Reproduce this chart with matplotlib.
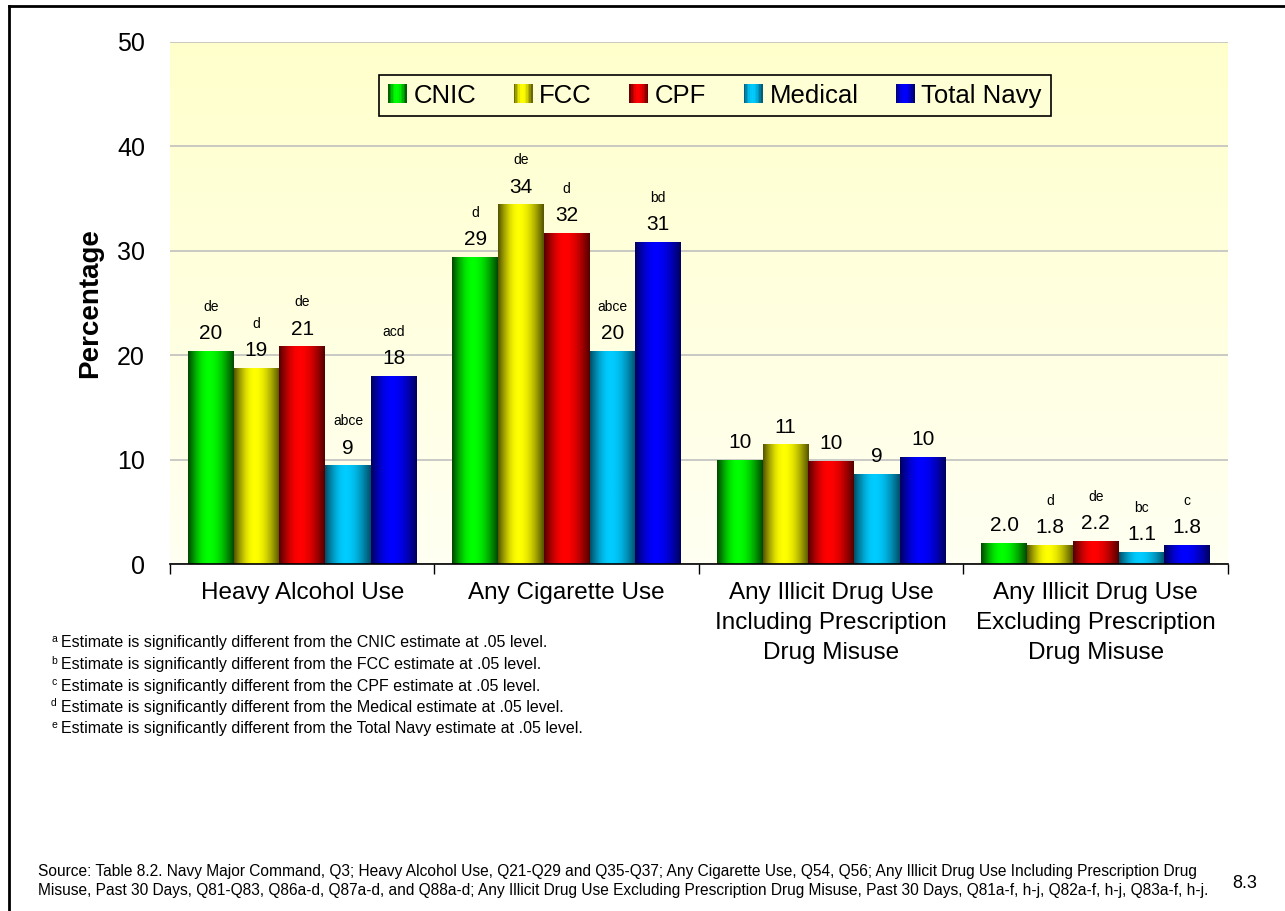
import numpy as np
import matplotlib
matplotlib.use("Agg")
import matplotlib.pyplot as plt
from matplotlib.colors import LinearSegmentedColormap
from matplotlib.patches import Rectangle
from matplotlib.legend_handler import HandlerBase
from matplotlib.lines import Line2D

plt.rcParams['font.family'] = ['Liberation Sans', 'DejaVu Sans']

# ---- data ----
categories = ["Heavy Alcohol Use", "Any Cigarette Use",
              "Any Illicit Drug Use\nIncluding Prescription\nDrug Misuse",
              "Any Illicit Drug Use\nExcluding Prescription\nDrug Misuse"]
series = ["CNIC", "FCC", "CPF", "Medical", "Total Navy"]
cnic = [20.4, 29.4, 9.9, 2.0]
fcc = [18.7, 34.4, 11.4, 1.8]
cpf = [20.8, 31.7, 9.8, 2.2]
medical = [9.4, 20.4, 8.6, 1.1]
total_navy = [18.0, 30.8, 10.2, 1.8]
decimals = [0, 0, 0, 1]

cnic_sig = ["de", "d", "", ""]
fcc_sig = ["d", "de", "", "d"]
cpf_sig = ["de", "d", "", "de"]
medical_sig = ["abce", "abce", "", "bc"]
total_sig = ["acd", "bd", "", "c"]

footnotes = [("a", "CNIC"), ("b", "FCC"), ("c", "CPF"), ("d", "Medical"), ("e", "Total Navy")]
source = ("Source: Table 8.2. Navy Major Command, Q3; Heavy Alcohol Use, Q21-Q29 and Q35-Q37; Any Cigarette Use, Q54, Q56; "
          "Any Illicit Drug Use Including Prescription Drug\nMisuse, Past 30 Days, Q81-Q83, Q86a-d, Q87a-d, and Q88a-d; "
          "Any Illicit Drug Use Excluding Prescription Drug Misuse, Past 30 Days, Q81a-f, h-j, Q82a-f, h-j, Q83a-f, h-j.")

values = [cnic, fcc, cpf, medical, total_navy]
sigs = [cnic_sig, fcc_sig, cpf_sig, medical_sig, total_sig]

# dark edge / bright centre for the cylinder-like shading
shades = [("#004a00", "#00ff00"), ("#555500", "#ffff00"), ("#550000", "#ff0000"),
          ("#00506a", "#00ccff"), ("#000060", "#0000ff")]


def grad_cmap(dark, bright):
    return LinearSegmentedColormap.from_list("g", [dark, bright])


def shade(t, peak=0.45):
    t = np.asarray(t, dtype=float)
    return np.where(t < peak, np.sin(np.pi / 2 * t / peak),
                    np.sin(np.pi / 2 * (1 - t) / (1 - peak)))


xs = np.linspace(0, 1, 64)
profile = shade(xs)

fig = plt.figure(figsize=(12.85, 9.11), dpi=100)
ax = fig.add_axes([0.1323, 0.3809, 0.8233, 0.5730])

# plot background gradient
bg = LinearSegmentedColormap.from_list("bg", ["#fffff2", "#ffffcc"])
ax.imshow(np.linspace(0, 1, 100).reshape(-1, 1), cmap=bg, origin="lower", aspect="auto",
          extent=[0, 1, 0, 1], transform=ax.transAxes, zorder=0)

n = len(series)
width = 0.173
x = np.arange(len(categories))
for i, (name, vals, sg) in enumerate(zip(series, values, sigs)):
    cm = grad_cmap(*shades[i])
    pos = x + (i - (n - 1) / 2) * width
    bars = ax.bar(pos, vals, width, color="none", edgecolor="none", zorder=2)
    for b, v, s, d in zip(bars, vals, sg, decimals):
        x0 = b.get_x()
        ax.imshow(profile.reshape(1, -1), cmap=cm, vmin=0, vmax=1, aspect="auto",
                  extent=[x0, x0 + width, 0, v], zorder=2, interpolation="bilinear")
        cx = x0 + width / 2
        ax.annotate(f"{v:.{d}f}", (cx, v), xytext=(0, 6), textcoords="offset points",
                    ha="center", va="bottom", fontsize=15)
        if s:
            ax.annotate(s, (cx, v), xytext=(0, 27), textcoords="offset points",
                        ha="center", va="bottom", fontsize=10)

ax.set_xlim(-0.5, len(categories) - 0.5)
ax.set_ylim(0, 50)
ax.set_yticks(range(0, 51, 10))
ax.tick_params(axis="y", length=0, labelsize=18, pad=18)
ax.yaxis.grid(True, color="#c0c0c0", linewidth=1.2, zorder=1)
ax.set_axisbelow(True)
ax.set_xticks(np.arange(-0.5, len(categories), 1.0))
ax.set_xticklabels([])
ax.tick_params(axis="x", direction="out", length=7, width=1, color="black")
for sp in ["top", "right", "left"]:
    ax.spines[sp].set_visible(False)
ax.spines["bottom"].set_linewidth(1.2)
ax.set_ylabel("Percentage", fontsize=20, fontweight="bold", labelpad=10)

for xi, cat in zip(x, categories):
    ax.text(xi, -1.75, cat, ha="center", va="top", fontsize=17.5, linespacing=1.47)


class GradHandler(HandlerBase):
    def __init__(self, cm):
        super().__init__()
        self.cm = cm

    def create_artists(self, legend, orig, xd, yd, w, h, fs, trans):
        arts = []
        k = 12
        side = h * 1.05
        y0 = yd + (h - side) / 2
        for j in range(k):
            t = (j + 0.5) / k
            c = self.cm(float(shade(t)))
            arts.append(Rectangle((xd + j * side / k, y0), side / k * 1.05, side,
                                  facecolor=c, edgecolor="none", transform=trans))
        return arts


handles = [Rectangle((0, 0), 1, 1) for _ in series]
hmap = {h: GradHandler(grad_cmap(*shades[i])) for i, h in enumerate(handles)}
leg = ax.legend(handles, series, handler_map=hmap, loc="center", bbox_to_anchor=(0.515, 0.8975),
                ncol=5, fontsize=18.5, frameon=True, fancybox=False, edgecolor="black",
                facecolor="#ffffd6", framealpha=1, handlelength=0.7, handletextpad=0.3,
                columnspacing=1.45, borderpad=0.35)
leg.get_frame().set_linewidth(1.2)

# footnotes
for k, (letter, cmd) in enumerate(footnotes):
    ypx = 643 + k * 21.5
    fig.text(51 / 1285, 1 - (ypx - 4) / 911, letter, fontsize=7.5, va="center", ha="left")
    fig.text(61 / 1285, 1 - ypx / 911,
             f"Estimate is significantly different from the {cmd} estimate at .05 level.",
             fontsize=11.5, va="center", ha="left")

fig.text(38 / 1285, 1 - 881 / 911, source, fontsize=11.2, va="center", ha="left",
         family=["Liberation Sans Narrow", "Liberation Sans"], linespacing=1.3)
fig.text(1232 / 1285, 1 - 883 / 911, "8.3", fontsize=13, va="center", ha="left")

# slide frame (left and top edges)
fig.add_artist(Line2D([9 / 1285, 9 / 1285], [0, 1 - 6 / 911], color="black", lw=2, transform=fig.transFigure))
fig.add_artist(Line2D([9 / 1285, 1], [1 - 6 / 911, 1 - 6 / 911], color="black", lw=2, transform=fig.transFigure))

fig.savefig("out.png", dpi=100)
